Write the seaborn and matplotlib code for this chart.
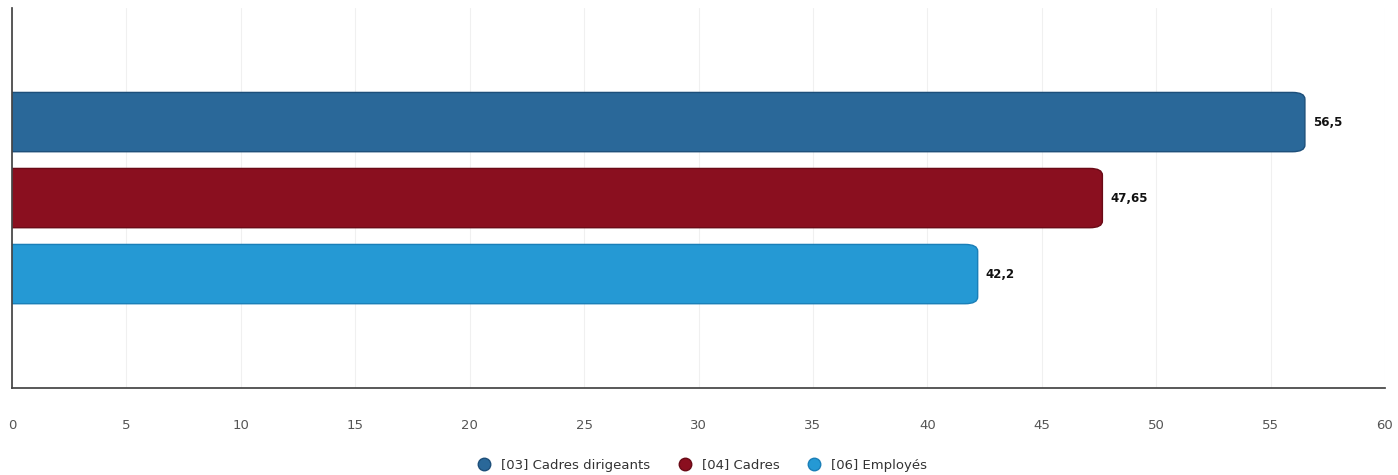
import numpy as np
import pandas as pd
import seaborn as sns
import matplotlib.pyplot as plt
from matplotlib.patches import FancyBboxPatch
from matplotlib.lines import Line2D

# data
categories = ['[03] Cadres dirigeants', '[04] Cadres', '[06] Employés']
values = [56.5, 47.65, 42.2]
labels = ['56,5', '47,65', '42,2']
colors = ['#2a6899', '#8a0f1f', '#2599d4']
edge_colors = ['#1d4f7a', '#6a0a16', '#1a7fb8']

df = pd.DataFrame({'cat': categories, 'value': values})

sns.set_theme(style='white')
plt.rcParams['font.family'] = ['DejaVu Sans']

fig = plt.figure(figsize=(13.98, 4.75), dpi=100)
ax = fig.add_axes([0.0086, 0.183, 0.9821, 0.800])

sns.barplot(data=df, x='value', y='cat', hue='cat', palette=colors,
            orient='h', width=0.78, legend=False, ax=ax)

# swap the plain bars for rounded ones (square at the axis, round at the end)
bars = list(ax.patches)
for i, p in enumerate(bars):
    x0, y0, w, h = p.get_x(), p.get_y(), p.get_width(), p.get_height()
    p.remove()
    rb = FancyBboxPatch((x0 - 1, y0), w + 1, h,
                        boxstyle='round,pad=0,rounding_size=0.55',
                        mutation_aspect=0.16,
                        facecolor=colors[i], edgecolor=edge_colors[i],
                        linewidth=1.0, zorder=3, clip_on=True)
    ax.add_patch(rb)
    rb.set_clip_path(ax.patch)
    ax.text(x0 + w + 0.35, y0 + h / 2, labels[i], va='center', ha='left',
            fontsize=8.5, fontweight='bold', color='#111111', zorder=4)

ax.set_xlim(0, 60)
ax.set_ylim(3.5, -1.5)
ax.set_xticks(np.arange(0, 61, 5))
ax.set_yticks([])
ax.set_xlabel('')
ax.set_ylabel('')
ax.grid(axis='x', color='#f0f0f0', linewidth=0.8, zorder=0)
ax.set_axisbelow(True)
ax.tick_params(axis='x', length=0, pad=22, labelsize=9.5, labelcolor='#555555')

for s in ['top', 'right']:
    ax.spines[s].set_visible(False)
ax.spines['left'].set_color('#444444')
ax.spines['bottom'].set_color('#444444')
ax.spines['left'].set_zorder(5)

handles = [Line2D([], [], marker='o', linestyle='', markersize=9,
                  markerfacecolor=c, markeredgecolor=e, markeredgewidth=1.0)
           for c, e in zip(colors, edge_colors)]
fig.legend(handles, categories, loc='center', bbox_to_anchor=(0.5, 0.021),
           ncol=3, frameon=False, fontsize=9.5, handletextpad=0.3,
           columnspacing=1.6, labelcolor='#333333')

fig.savefig('out.png', dpi=100)
